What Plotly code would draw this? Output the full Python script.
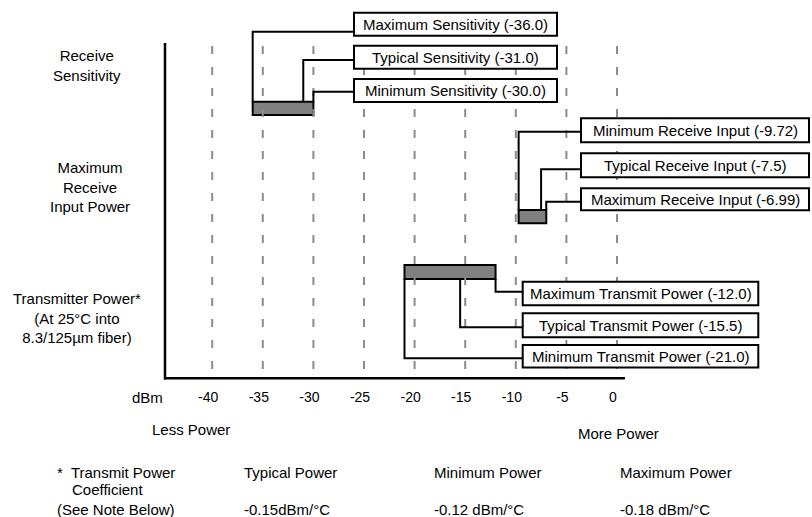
import plotly.graph_objects as go

# ---- chart content -------------------------------------------------------
tick_values = [-40, -35, -30, -25, -20, -15, -10, -5, 0]
tick_labels = ["-40", "-35", "-30", "-25", "-20", "-15", "-10", "-5", "0"]
axis_unit = "dBm"

section_titles = [
    "Receive<br>Sensitivity",
    "Maximum<br>Receive<br>Input Power",
    "Transmitter Power*<br>(At 25°C into<br>8.3/125µm fiber)",
]

sens_labels = ["Maximum Sensitivity", "Typical Sensitivity", "Minimum Sensitivity"]
sens_values = [-36.0, -31.0, -30.0]

rx_labels = ["Minimum Receive Input", "Typical Receive Input", "Maximum Receive Input"]
rx_values = [-9.72, -7.5, -6.99]

tx_labels = ["Maximum Transmit Power", "Typical Transmit Power", "Minimum Transmit Power"]
tx_values = [-12.0, -15.5, -21.0]

direction_labels = ["Less Power", "More Power"]

coeff_title = ["*  Transmit Power", "Coefficient", "(See Note Below)"]
coeff_headers = ["Typical Power", "Minimum Power", "Maximum Power"]
coeff_values = ["-0.15dBm/°C", "-0.12 dBm/°C", "-0.18 dBm/°C"]

# ---- layout helpers --------------------------------------------------------
W, H = 812, 517
PX_PER_DB = 10.12      # horizontal scale of the dBm axis
ZERO_COL = 617         # pixel column of 0 dBm
FONT = "Liberation Sans, Arial, Helvetica, sans-serif"


def xd(px):
    """pixel column -> dBm on the x axis"""
    return (px - ZERO_COL) / PX_PER_DB


def xp(px):
    return px / W


def yp(py):
    return 1 - py / H


fig = go.Figure()

# dashed vertical reference lines at every tick value
gx, gy = [], []
for v in tick_values:
    gx += [v, v, None]
    gy += [46, 373, None]
fig.add_trace(go.Scatter(
    x=gx, y=gy, mode="lines",
    line=dict(color="#8c8c8c", width=2, dash="8px,13px"),
    hoverinfo="skip", showlegend=False,
))

# range bars (min .. max of each group)
groups = [sens_values, rx_values, tx_values]
bar_rows = [(101.7, 115.0), (210.0, 223.3), (265.0, 279.0)]
fig.add_trace(go.Bar(
    orientation="h",
    base=[min(g) for g in groups],
    x=[max(g) - min(g) for g in groups],
    y=[(a + b) / 2 for a, b in bar_rows],
    width=[b - a for a, b in bar_rows],
    marker=dict(color="#808080", line=dict(color="black", width=2)),
    hoverinfo="skip", showlegend=False,
))

shapes = []
annotations = []


def callouts(labels, values, box_left, box_right, tops, heights, link_rows, bar_edge):
    for lab, val, top, h, cy in zip(labels, values, tops, heights, link_rows):
        shapes.append(dict(
            type="path", xref="x", yref="y",
            path=f"M {xd(box_left)},{cy} L {val},{cy} L {val},{bar_edge}",
            line=dict(color="black", width=2),
        ))
        shapes.append(dict(
            type="rect", xref="x", yref="y",
            x0=xd(box_left), x1=xd(box_right), y0=top, y1=top + h,
            fillcolor="white", line=dict(color="black", width=2),
        ))
        annotations.append(dict(
            text=f"{lab} ({val})", xref="x", yref="y",
            x=xd((box_left + box_right) / 2), y=top + h / 2,
            xanchor="center", yanchor="middle", showarrow=False,
            font=dict(family=FONT, size=15, color="black"),
        ))


callouts(sens_labels, sens_values, 354, 557, [12.7, 45.7, 79.0], [23, 23, 23],
         [31.7, 60.0, 91.7], bar_rows[0][0])
callouts(rx_labels, rx_values, 581, 809, [118.3, 153.3, 188.3], [24, 24, 22],
         [131.7, 169.3, 201.7], bar_rows[1][0])
callouts(tx_labels, tx_values, 522.7, 758.3, [281.7, 313.3, 345.0], [23.5, 24, 22.5],
         [291.7, 327.3, 358.3], bar_rows[2][1])

# axis frame lines
shapes.append(dict(type="line", xref="x", yref="y", x0=xd(165), x1=xd(165), y0=43, y1=379.5,
                   line=dict(color="black", width=2.5)))
shapes.append(dict(type="line", xref="x", yref="y", x0=xd(164), x1=xd(625), y0=378.3, y1=378.3,
                   line=dict(color="black", width=2.5)))

# row titles
for txt, cx, cy in zip(section_titles, [87, 90, 77], [65.5, 186.7, 317.5]):
    annotations.append(dict(
        text=txt, xref="paper", yref="paper", x=xp(cx), y=yp(cy),
        xanchor="center", yanchor="middle", align="center", showarrow=False,
        font=dict(family=FONT, size=15, color="black"),
    ))

# unit label
annotations.append(dict(
    text=axis_unit, xref="paper", yref="paper", x=xp(147), y=yp(397),
    xanchor="center", yanchor="middle", showarrow=False,
    font=dict(family=FONT, size=15, color="black"),
))

# direction captions
for txt, cx, cy in zip(direction_labels, [191, 618], [429, 433]):
    annotations.append(dict(
        text=txt, xref="paper", yref="paper", x=xp(cx), y=yp(cy),
        xanchor="center", yanchor="middle", showarrow=False,
        font=dict(family=FONT, size=15, color="black"),
    ))

# coefficient footnote table
for txt, lx, cy, anchor in zip(coeff_title, [55, 107.5, 55], [472, 490, 509],
                               ["left", "center", "left"]):
    annotations.append(dict(
        text=txt, xref="paper", yref="paper", x=xp(lx), y=yp(cy),
        xanchor=anchor, yanchor="middle", showarrow=False,
        font=dict(family=FONT, size=15, color="black"),
    ))
for head, val, lx in zip(coeff_headers, coeff_values, [242, 432, 618]):
    for txt, cy in ((head, 472), (val, 509)):
        annotations.append(dict(
            text=txt, xref="paper", yref="paper", x=xp(lx), y=yp(cy),
            xanchor="left", yanchor="middle", showarrow=False,
            font=dict(family=FONT, size=15, color="black"),
        ))

fig.update_layout(
    width=W, height=H,
    margin=dict(l=0, r=0, t=0, b=0),
    paper_bgcolor="white", plot_bgcolor="white",
    shapes=shapes, annotations=annotations,
    showlegend=False, barmode="overlay",
    xaxis=dict(
        range=[xd(0), xd(W)], domain=[0, 1],
        anchor="free", position=(H - 378.3) / H,
        tickmode="array", tickvals=tick_values, ticktext=tick_labels,
        ticks="", showline=False, showgrid=False, zeroline=False,
        ticklabelstandoff=9, ticklabelshift=-4,
        tickfont=dict(family=FONT, size=14, color="black"),
        fixedrange=True,
    ),
    yaxis=dict(
        range=[H, 0], domain=[0, 1],
        visible=False, showgrid=False, zeroline=False, fixedrange=True,
    ),
)

fig.write_html("out.html")
